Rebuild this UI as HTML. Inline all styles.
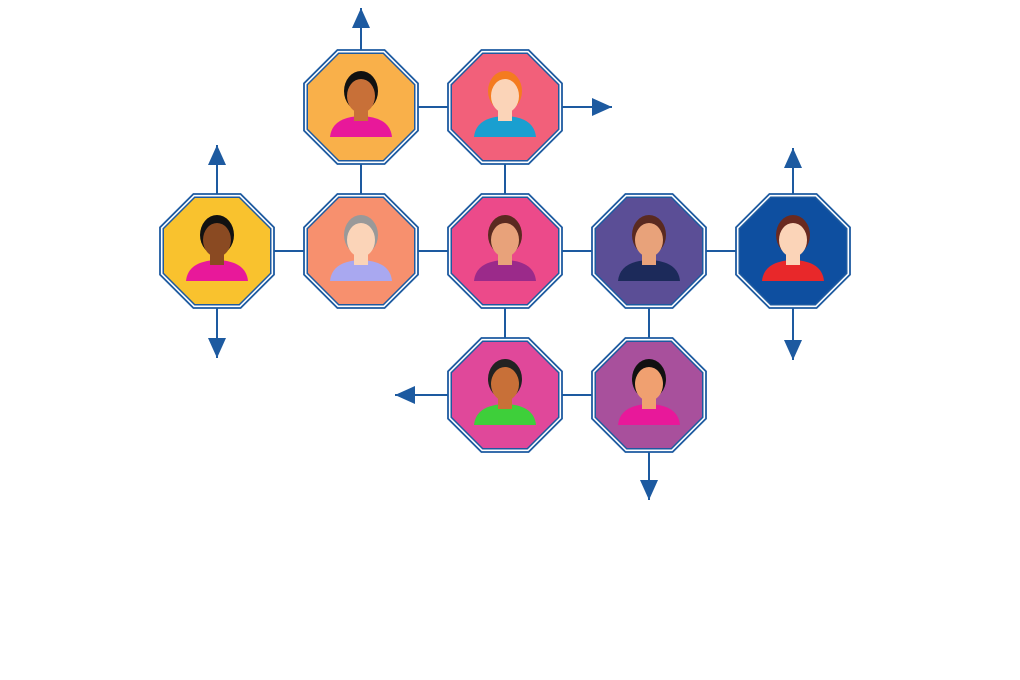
<!DOCTYPE html><html><head><style>body{margin:0;background:#fff}svg{display:block}</style></head><body>
<svg id="s" width="1020" height="680" xmlns="http://www.w3.org/2000/svg"></svg>
<script>
const s=document.getElementById('s');let h='';
const C='#1d5aa0';
function oct(cx,cy,a){let p=[];const R=a/Math.cos(Math.PI/8);for(let k=0;k<8;k++){const t=Math.PI/8+k*Math.PI/4;p.push((cx+R*Math.cos(t)).toFixed(1)+','+(cy+R*Math.sin(t)).toFixed(1));}return p.join(' ');}
function line(x1,y1,x2,y2){h+=`<line x1="${x1}" y1="${y1}" x2="${x2}" y2="${y2}" stroke="${C}" stroke-width="2"/>`;}
function arrow(x1,y1,x2,y2){line(x1,y1,x2,y2);const dx=Math.sign(x2-x1),dy=Math.sign(y2-y1);const L=20,W=9;
let p=[[x2,y2],[x2-dx*L-dy*W,y2-dy*L-dx*W],[x2-dx*L+dy*W,y2-dy*L+dx*W]];h+=`<polygon points="${p.map(q=>q.join(',')).join(' ')}" fill="${C}"/>`;}
line(361,107,505,107);line(361,107,361,251);line(505,107,505,251);
line(217,251,793,251);line(505,251,505,395);line(649,251,649,395);line(505,395,649,395);
arrow(361,60,361,8);arrow(560,107,612,107);arrow(217,200,217,145);arrow(217,300,217,358);
arrow(793,200,793,148);arrow(793,300,793,360);arrow(450,395,395,395);arrow(649,450,649,500);
const nodes=[[361,107,'#f9b04a','#c87038','#111','#e8189a'],[505,107,'#f2607a','#fbd4b8','#f47b20','#1a9fd0'],
[217,251,'#f9c22e','#8a4a22','#111','#e8189a'],[361,251,'#f7906e','#fbd4b8','#999','#a9a8f0'],
[505,251,'#ec4a8a','#e8a27a','#5a2a20','#9b2a8a'],[649,251,'#5b4e96','#e8a27a','#5a2a20','#1c2a5a'],
[793,251,'#0e4fa0','#fbd4b8','#6a2a20','#e8282a'],[505,395,'#e0489a','#c87038','#222','#3ecf3a'],
[649,395,'#a8509c','#f0a070','#111','#e8189a']];
for(const [x,y,bg,sk,hr,sh] of nodes){
h+=`<polygon points="${oct(x,y,57)}" fill="#fff" stroke="${C}" stroke-width="1.8"/>`;
h+=`<polygon points="${oct(x,y,54.5)}" fill="${C}"/>`;
h+=`<polygon points="${oct(x,y,53)}" fill="${bg}"/>`;
h+=`<path d="M${x-31},${y+30} Q${x-29},${y+10} ${x},${y+9} Q${x+29},${y+10} ${x+31},${y+30} Z" fill="${sh}"/>`;
h+=`<rect x="${x-7}" y="${y}" width="14" height="14" fill="${sk}"/>`;
h+=`<ellipse cx="${x}" cy="${y-16}" rx="17" ry="20" fill="${hr}"/>`;
h+=`<ellipse cx="${x}" cy="${y-11}" rx="14" ry="17" fill="${sk}"/>`;
}
s.innerHTML=h;
</script></body></html>
